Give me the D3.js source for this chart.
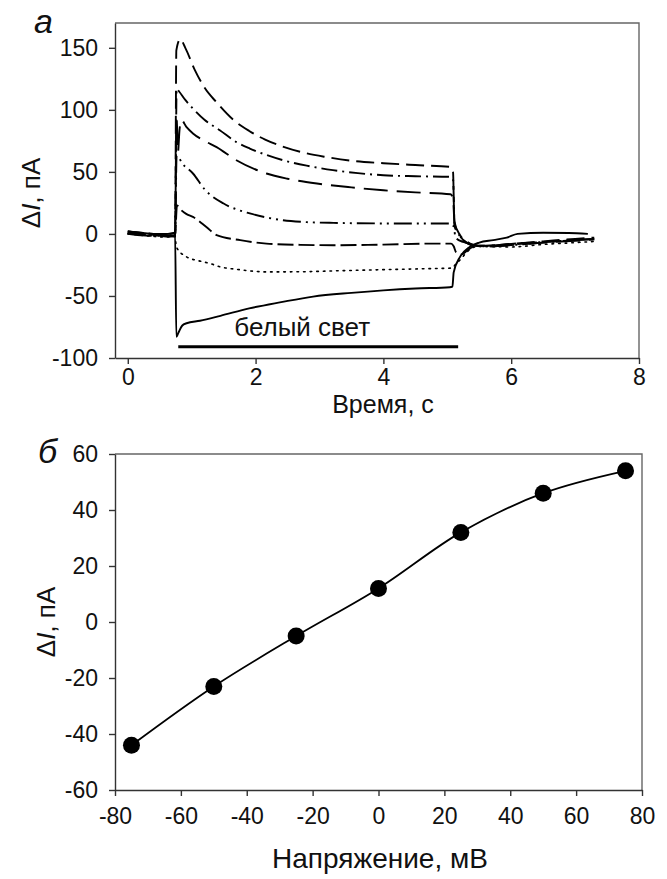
<!DOCTYPE html>
<html>
<head>
<meta charset="utf-8">
<script src="https://cdn.jsdelivr.net/npm/d3@7"></script>
<style>
  body { margin: 0; background: #fff; }
  text { font-family: Arial, "Liberation Sans", sans-serif; fill: #111; }
</style>
</head>
<body>
<svg id="chart" width="667" height="879"></svg>
<script>
// ---- Panel а: light-induced current traces ΔI(t) at different holding potentials ----
const timeTicks = [0, 2, 4, 6, 8];
const currentTicks = [-100, -50, 0, 50, 100, 150];

// [time, s ; ΔI, pA]
const trace75 = [[0,1],[0.15,0],[0.35,-1],[0.55,-1.5],[0.74,-2],[0.76,148],[0.82,157],[0.9,150],[1.05,132],[1.2,118],[1.39,106],[1.65,92],[1.9,83],[2.15,76],[2.45,70],[2.75,65.5],[3.1,62],[3.5,59],[4.0,57],[4.5,55.5],[5.05,54],[5.09,50],[5.11,10],[5.2,-1],[5.3,-6],[5.42,-9],[5.6,-9.5],[6.0,-8],[6.5,-6],[7.0,-4],[7.3,-3]];
const trace50 = [[0,2],[0.15,1],[0.35,0],[0.55,-1],[0.74,-1],[0.765,117],[0.8,115],[0.9,108],[1.02,101],[1.2,92],[1.44,83.6],[1.7,74],[1.91,68.8],[2.15,64],[2.43,59.4],[2.8,55],[3.21,51.4],[3.6,49],[4.0,47.3],[4.5,46.5],[5.05,46],[5.09,44],[5.115,8],[5.2,-2],[5.3,-7],[5.42,-9],[5.6,-10],[6.0,-8.5],[6.5,-6.5],[7.0,-5],[7.3,-4]];
const trace25 = [[0,0],[0.15,-1],[0.35,-1.5],[0.55,-2],[0.74,-2],[0.765,92],[0.785,66],[0.81,84],[0.84,91.7],[0.92,86],[1.02,81],[1.2,75],[1.39,70],[1.7,59.4],[2.17,48.7],[2.5,44.5],[2.96,40.6],[3.5,37.5],[4.0,35.2],[4.5,33.5],[5.05,32],[5.09,29],[5.115,6],[5.2,-2],[5.3,-7],[5.42,-9.5],[5.6,-10],[6.0,-9],[6.5,-7],[7.0,-5.5],[7.3,-4.5]];
const trace0 = [[0,1],[0.2,0],[0.4,-1],[0.6,-2],[0.74,-2],[0.765,63.5],[0.85,57],[1.02,48.7],[1.21,35.5],[1.5,24.5],[1.91,16.5],[2.2,13],[2.43,11],[2.8,9.5],[3.22,8.9],[4.26,8.4],[5.05,8.4],[5.1,6],[5.13,-3],[5.25,-6.5],[5.42,-9],[5.6,-10],[6.0,-9],[6.5,-7],[7.0,-5],[7.3,-4]];
const traceM25 = [[0,2],[0.2,1],[0.4,0],[0.6,-1],[0.74,-1],[0.77,23],[0.82,20],[0.92,16],[1.02,13.7],[1.23,5.6],[1.39,-1],[1.76,-5],[2.17,-7.8],[2.7,-8.8],[3.22,-9.1],[4.0,-8.6],[4.78,-7.8],[5.06,-7.8],[5.1,-10],[5.14,-15],[5.22,-16.5],[5.32,-13],[5.45,-9.5],[5.6,-9.5],[6.0,-8],[6.5,-6.5],[7.0,-5],[7.3,-4]];
const traceM50 = [[0,0],[0.2,-1],[0.4,-2],[0.6,-2.5],[0.74,-2],[0.76,-10.5],[0.92,-18.5],[1.1,-21.5],[1.29,-23.9],[1.45,-26.6],[1.7,-28.5],[2.17,-30.6],[2.7,-30.5],[3.21,-29.8],[4.0,-28.8],[4.78,-27.9],[5.08,-27.5],[5.12,-25],[5.2,-21],[5.3,-15],[5.4,-11],[5.5,-10],[6.0,-10.5],[6.5,-8.5],[7.0,-7],[7.33,-6]];
const traceM75 = [[0,2],[0.2,1],[0.4,0],[0.6,0],[0.74,1],[0.76,-83],[0.79,-80],[0.85,-74],[0.92,-72],[1.13,-70],[1.45,-66],[1.9,-60],[2.4,-55],[2.9,-50.5],[3.5,-47.5],[4.0,-45.5],[4.5,-44],[5.04,-43],[5.08,-42.5],[5.1,-31],[5.2,-18.5],[5.35,-10.5],[5.5,-7],[5.72,-5],[5.93,-3],[6.1,0],[6.5,1],[6.9,0.8],[7.2,0]];

const traces = [trace75, trace50, trace25, trace0, traceM25, traceM50, traceM75];
const traceDash = ["18,7", "16,5,2,5", "24,9", "18,5,2,5,2,5", "16,5", "1.6,5", null];

// white-light stimulus bar
const lightOn = [0.79, 5.17];
const lightLevel = -91;
const lightLabel = "белый свет";

// ---- Panel б: ΔI vs holding voltage ----
const voltageTicks = [-80, -60, -40, -20, 0, 20, 40, 60, 80];
const ivTicks = [-60, -40, -20, 0, 20, 40, 60];
const holdingVoltage = [-75, -50, -25, 0, 25, 50, 75];
const deltaI = [-44, -23, -5, 12, 32, 46, 54];

const svg = d3.select("#chart");
const axisColor = "#333";
const frameColor = "#666";
const tickFont = "23px";
const plainNumber = d => String(d);   // hyphen-minus, as in the printed axes

function styleAxis(g) {
  g.select(".domain").attr("stroke", axisColor).attr("stroke-width", 1.4);
  g.selectAll(".tick line").attr("stroke", axisColor).attr("stroke-width", 1.4);
  g.selectAll(".tick text").style("font-size", tickFont).attr("fill", "#111");
}

function drawFrame(x0, x1, y0, y1) {
  svg.append("path")
    .attr("d", `M${x0},${y0}H${x1}V${y1}`)
    .attr("fill", "none").attr("stroke", frameColor).attr("stroke-width", 1.4);
}

function yTitle(x, y) {
  const t = svg.append("text")
    .attr("transform", `translate(${x},${y}) rotate(-90)`)
    .attr("text-anchor", "middle").style("font-size", "26px");
  t.append("tspan").text("Δ");
  t.append("tspan").style("font-style", "italic").text("I");
  t.append("tspan").text(", пА");
}

// ===== Panel а =====
const xT = d3.scaleLinear().domain([-0.2, 8]).range([115, 639]);
const yT = d3.scaleLinear().domain([-100, 170]).range([358, 23]);

drawFrame(xT.range()[0], xT.range()[1], yT.range()[1], yT.range()[0]);

svg.append("g").attr("transform", `translate(0,${yT.range()[0]})`)
  .call(d3.axisBottom(xT).tickValues(timeTicks).tickSize(6).tickSizeOuter(0).tickPadding(5).tickFormat(plainNumber))
  .call(styleAxis);
svg.append("g").attr("transform", `translate(${xT.range()[0]},0)`)
  .call(d3.axisLeft(yT).tickValues(currentTicks).tickSize(6).tickSizeOuter(0).tickPadding(11).tickFormat(plainNumber))
  .call(styleAxis);

const lineT = d3.line().x(d => xT(d[0])).y(d => yT(d[1])).curve(d3.curveMonotoneX);
svg.append("g").selectAll("path").data(traces).join("path")
  .attr("d", lineT)
  .attr("fill", "none")
  .attr("stroke", "#000")
  .attr("stroke-width", (d, i) => i === 5 ? 1.6 : 1.9)
  .attr("stroke-linecap", (d, i) => i === 5 ? "round" : "butt")
  .attr("stroke-dasharray", (d, i) => traceDash[i]);

svg.append("line")
  .attr("x1", xT(lightOn[0])).attr("x2", xT(lightOn[1]))
  .attr("y1", yT(lightLevel)).attr("y2", yT(lightLevel))
  .attr("stroke", "#000").attr("stroke-width", 3);
svg.append("text")
  .attr("x", xT((lightOn[0] + lightOn[1]) / 2) - 16).attr("y", yT(lightLevel) - 11)
  .attr("text-anchor", "middle").style("font-size", "26px").text(lightLabel);

svg.append("text").attr("x", 383).attr("y", 413).attr("text-anchor", "middle")
  .style("font-size", "25px").text("Время, с");
yTitle(40, 193);
svg.append("text").attr("x", 34).attr("y", 33).style("font-size", "34px")
  .style("font-style", "italic").text("а");

// ===== Panel б =====
const xB = d3.scaleLinear().domain([-80, 80]).range([115, 642]);
const yB = d3.scaleLinear().domain([-60, 60]).range([790, 454]);

drawFrame(xB.range()[0], xB.range()[1], yB.range()[1], yB.range()[0]);

svg.append("g").attr("transform", `translate(0,${yB.range()[0]})`)
  .call(d3.axisBottom(xB).tickValues(voltageTicks).tickSize(6).tickSizeOuter(0).tickPadding(12).tickFormat(plainNumber))
  .call(styleAxis);
svg.append("g").attr("transform", `translate(${xB.range()[0]},0)`)
  .call(d3.axisLeft(yB).tickValues(ivTicks).tickSize(6).tickSizeOuter(0).tickPadding(11).tickFormat(plainNumber))
  .call(styleAxis);

const ivPoints = holdingVoltage.map((v, i) => [v, deltaI[i]]);
svg.append("path")
  .datum(ivPoints)
  .attr("d", d3.line().x(d => xB(d[0])).y(d => yB(d[1])).curve(d3.curveCatmullRom))
  .attr("fill", "none").attr("stroke", "#000").attr("stroke-width", 1.8);
svg.append("g").selectAll("circle").data(ivPoints).join("circle")
  .attr("cx", d => xB(d[0])).attr("cy", d => yB(d[1])).attr("r", 8.5).attr("fill", "#000");

svg.append("text").attr("x", 380).attr("y", 868).attr("text-anchor", "middle")
  .style("font-size", "28px").text("Напряжение, мВ");
yTitle(55, 622);
svg.append("text").attr("x", 38).attr("y", 463).style("font-size", "34px")
  .style("font-style", "italic").text("б");
</script>
</body>
</html>
